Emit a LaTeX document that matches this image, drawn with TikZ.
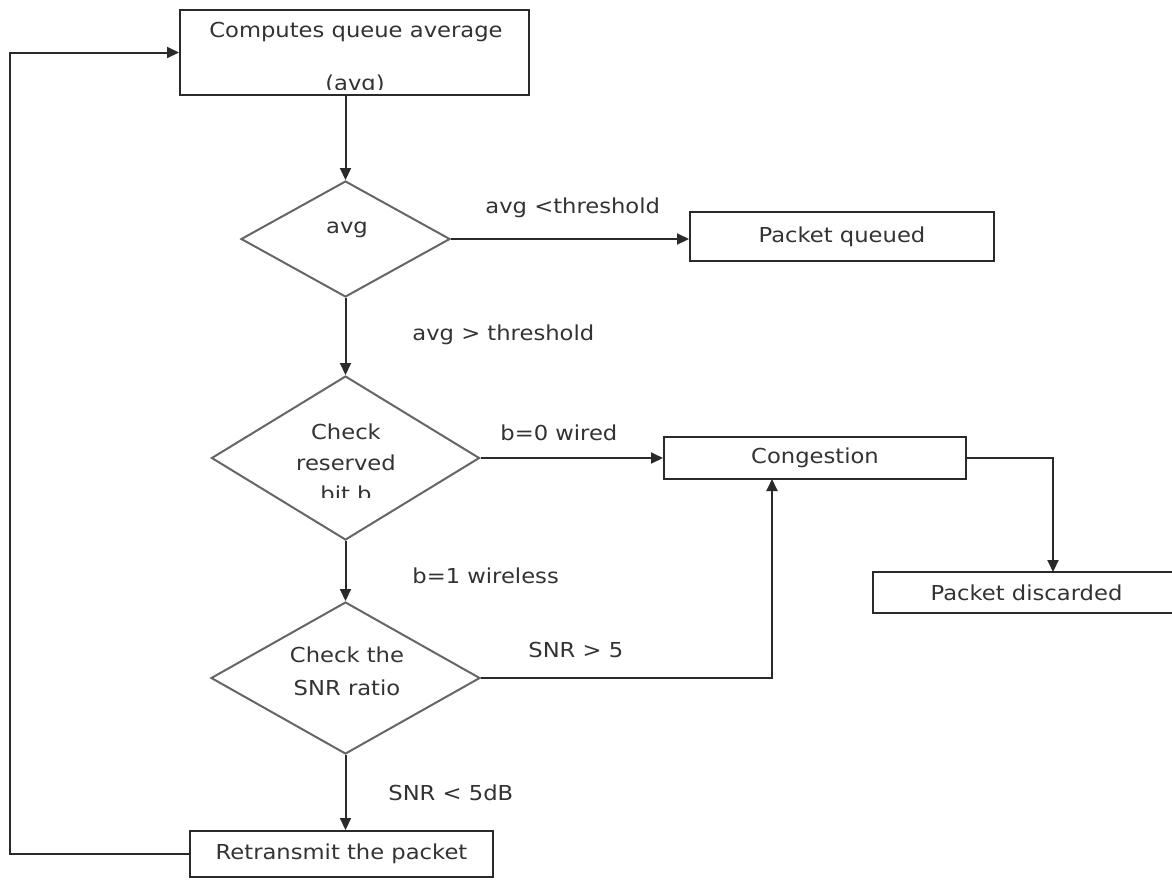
\documentclass[tikz,border=0pt]{standalone}
\usepackage{fontspec}
\setmainfont{DejaVu Sans}[FakeStretch=1.1]
\usetikzlibrary{shapes.geometric,arrows.meta}
\definecolor{txtc}{HTML}{333333}
\definecolor{linec}{HTML}{2A2A2A}
\definecolor{diac}{HTML}{666666}
\begin{document}
\begin{tikzpicture}[x=0.5pt,y=-0.5pt,
  every node/.style={font=\fontsize{10.3}{12}\selectfont},
  boxn/.style={draw=linec, line width=1pt, rectangle, inner sep=0pt, text=txtc},
  dian/.style={draw=diac, line width=1pt, diamond, inner sep=0pt},
  arr/.style={draw=linec, line width=1pt, -{Triangle[length=6pt,width=5.5pt]}},
  lbl/.style={anchor=base west, inner sep=0pt, text=txtc},
  ctext/.style={anchor=base, inner sep=0pt, text=txtc}]
\useasboundingbox[fill=white] (0,0) rectangle (1172,880);

% boxes
\node[boxn, minimum width=174.5pt, minimum height=42.5pt] (b1) at (354.5,52.5) {};
\node[ctext] (b1t) at (356,37) {Computes queue average};
\begin{scope}
  \clip (181,60) rectangle (528,89);
  \node[ctext] (b1u) at (355,90) {(avg)};
\end{scope}

\node[boxn, minimum width=152pt, minimum height=24.5pt] (pq) at (842,236.5) {Packet queued};
\node[boxn, minimum width=151pt, minimum height=21pt] (cg) at (815,458) {Congestion};
\node[boxn, minimum width=153.5pt, minimum height=20.5pt] (pd) at (1026.5,592.5) {Packet discarded};
\node[boxn, minimum width=151.5pt, minimum height=23pt] (rt) at (341.5,854) {Retransmit the packet};

% diamonds
\node[dian, minimum width=104.5pt, minimum height=58pt] (d1) at (345.5,239) {};
\node[ctext] (d1t) at (347,233) {avg};

\node[dian, minimum width=134pt, minimum height=82pt] (d2) at (345.5,458) {};
\node[ctext] (d2a) at (346,439) {Check};
\node[ctext] (d2b) at (346,470) {reserved};
\begin{scope}
  \clip (250,475) rectangle (440,497);
  \node[ctext] (d2c) at (346,501) {bit b};
\end{scope}

\node[dian, minimum width=134.5pt, minimum height=76pt] (d3) at (345.5,678) {};
\node[ctext] (d3a) at (347,662) {Check the};
\node[ctext] (d3b) at (347,695) {SNR ratio};

% helper coordinates
\coordinate (pdin) at (1053,572);
\coordinate (cgin) at (772,479);
\coordinate (loopx) at (10,0);

% connectors
\draw[arr] (d1.north |- b1.south) -- (d1.north);
\draw[arr] (d1.east) -- (d1.east -| pq.west);
\draw[arr] (d1.south) -- (d2.north);
\draw[arr] (d2.east) -- (d2.east -| cg.west);
\draw[arr] (cg.east) -| (pdin);
\draw[arr] (d2.south) -- (d3.north);
\draw[arr] (d3.east) -| (cgin);
\draw[arr] (d3.south) -- (d3.south |- rt.north);
\draw[arr] (rt.west) -- (rt.west -| loopx) |- (b1.west);

% labels
\node[lbl] (l1) at (485,213) {avg <threshold};
\node[lbl] (l2) at (412,340) {avg > threshold};
\node[lbl] (l3) at (500,440) {b=0 wired};
\node[lbl] (l4) at (412,583) {b=1 wireless};
\node[lbl] (l5) at (528,657) {SNR > 5};
\node[lbl] (l6) at (388,800) {SNR < 5dB};
\end{tikzpicture}
\end{document}
